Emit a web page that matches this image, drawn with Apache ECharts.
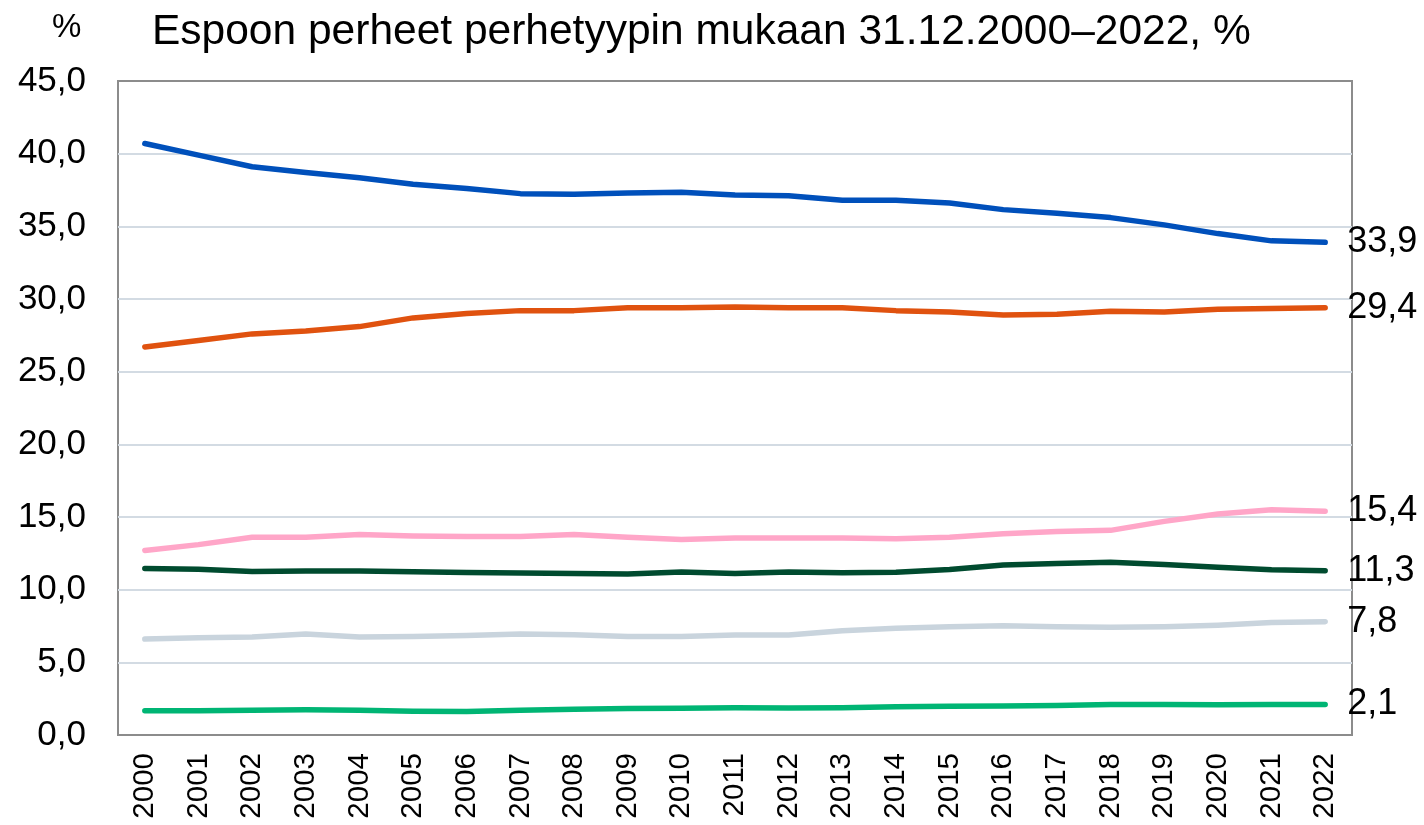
<!DOCTYPE html>
<html>
<head>
<meta charset="utf-8">
<script src="https://cdn.jsdelivr.net/npm/echarts@6/dist/echarts.min.js"></script>
<style>
  html, body { margin: 0; padding: 0; background: #fff; }
  #chart { width: 1424px; height: 825px; }
</style>
</head>
<body>
<div id="chart"></div>
<script>
  var years = ['2000', '2001', '2002', '2003', '2004', '2005', '2006', '2007', '2008', '2009', '2010',
    '2011', '2012', '2013', '2014', '2015', '2016', '2017', '2018', '2019', '2020', '2021', '2022'];

  var blueLine = [40.7, 39.9, 39.1, 38.7, 38.35, 37.9, 37.6, 37.25, 37.2, 37.3, 37.35,
    37.15, 37.1, 36.8, 36.8, 36.6, 36.15, 35.9, 35.6, 35.1, 34.5, 34.0, 33.9];
  var orangeLine = [26.7, 27.15, 27.6, 27.8, 28.1, 28.7, 29.0, 29.2, 29.2, 29.4, 29.4,
    29.45, 29.4, 29.4, 29.2, 29.1, 28.9, 28.95, 29.15, 29.1, 29.3, 29.35, 29.4];
  var pinkLine = [12.7, 13.1, 13.6, 13.6, 13.8, 13.7, 13.65, 13.65, 13.8, 13.6, 13.45,
    13.55, 13.55, 13.55, 13.5, 13.6, 13.85, 14.0, 14.08, 14.7, 15.2, 15.5, 15.4];
  var darkGreenLine = [11.45, 11.4, 11.25, 11.28, 11.28, 11.23, 11.18, 11.15, 11.12, 11.07, 11.22,
    11.12, 11.22, 11.16, 11.2, 11.38, 11.7, 11.8, 11.88, 11.74, 11.55, 11.37, 11.3];
  var greyLine = [6.6, 6.7, 6.75, 6.95, 6.75, 6.77, 6.84, 6.95, 6.9, 6.77, 6.77,
    6.88, 6.88, 7.18, 7.35, 7.45, 7.52, 7.44, 7.41, 7.45, 7.56, 7.74, 7.8];
  var greenLine = [1.67, 1.67, 1.7, 1.74, 1.7, 1.64, 1.62, 1.7, 1.78, 1.82, 1.84,
    1.87, 1.85, 1.87, 1.94, 1.97, 2.0, 2.03, 2.1, 2.1, 2.08, 2.1, 2.1];

  var yTicks = [0, 5, 10, 15, 20, 25, 30, 35, 40, 45];

  function comma(v, d) {
    return Number(v).toFixed(d).replace('.', ',');
  }

  // gray frame at 0 and 45, light grid in between
  var gridColors = yTicks.map(function (t, i) {
    return (i === 0 || i === yTicks.length - 1) ? '#8c8c8c' : '#d3dbe3';
  });

  function makeLine(name, data, color) {
    return {
      name: name,
      type: 'line',
      data: data,
      symbol: 'none',
      lineStyle: { color: color, width: 5.5, cap: 'round', join: 'round' },
      itemStyle: { color: color },
      endLabel: {
        show: true,
        distance: 22,
        color: '#000',
        fontSize: 36,
        fontFamily: 'Liberation Sans, Arial, sans-serif',
        formatter: function (p) { return comma(p.value, 1); }
      },
      emphasis: { disabled: true },
      z: 3
    };
  }

  var myChart = echarts.init(document.getElementById('chart'), null, { renderer: 'canvas' });
  myChart.setOption({
    animation: false,
    backgroundColor: '#fff',
    textStyle: { fontFamily: 'Liberation Sans, Arial, sans-serif' },
    title: [
      {
        text: 'Espoon perheet perhetyypin mukaan 31.12.2000\u20132022, %',
        left: 147,
        top: 6,
        textStyle: { fontSize: 42.5, fontWeight: 'normal', color: '#000' }
      },
      {
        text: '%',
        left: 47,
        top: 6,
        textStyle: { fontSize: 33, fontWeight: 'normal', color: '#000' }
      }
    ],
    grid: {
      left: 118,
      top: 81,
      right: 72,
      bottom: 90,
      show: true,
      borderColor: '#8c8c8c',
      borderWidth: 2,
      containLabel: false
    },
    xAxis: {
      type: 'category',
      data: years,
      boundaryGap: true,
      axisLine: { show: false },
      axisTick: { show: false },
      axisLabel: {
        rotate: 90,
        margin: 18,
        fontSize: 29.5,
        color: '#000',
        interval: 0
      }
    },
    yAxis: {
      type: 'value',
      min: yTicks[0],
      max: yTicks[yTicks.length - 1],
      interval: 5,
      axisLine: { show: false },
      axisTick: { show: false },
      axisLabel: {
        fontSize: 35,
        color: '#000',
        margin: 32,
        formatter: function (v) { return comma(v, 1); }
      },
      splitLine: { lineStyle: { color: gridColors, width: 2 } }
    },
    series: [
      makeLine('a', blueLine, '#0050bb'),
      makeLine('b', orangeLine, '#e0520f'),
      makeLine('c', pinkLine, '#ffa6c8'),
      makeLine('d', darkGreenLine, '#004b2f'),
      makeLine('e', greyLine, '#c9d4dd'),
      makeLine('f', greenLine, '#00b574')
    ]
  });
</script>
</body>
</html>
